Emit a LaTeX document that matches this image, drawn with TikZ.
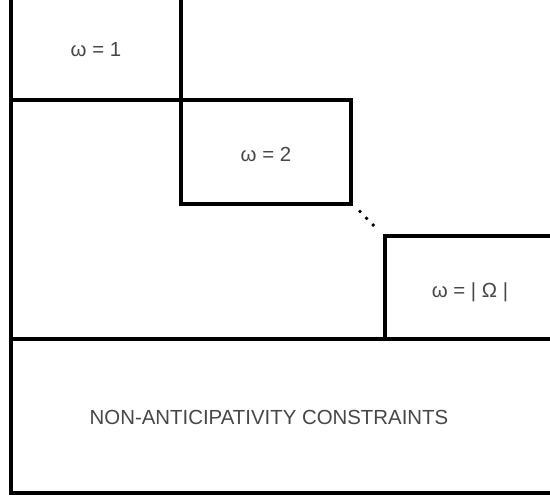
\documentclass[tikz,border=0pt]{standalone}
\usepackage{fontspec}
\setmainfont{Liberation Sans}

\begin{document}
\begin{tikzpicture}[x=1pt,y=-1pt,
    blockline/.style={line width=3.2pt,line join=miter},
    blocktext/.style={text=black!72,font=\fontsize{20.4}{24}\selectfont,inner sep=0pt}]
  \useasboundingbox (0,0) rectangle (550,497);
  \clip (0,0) rectangle (550,497);
  \draw[blockline] (11,-10) rectangle (560,493);
  \draw[blockline] (11,-10) rectangle (181,100);
  \draw[blockline] (181,100) rectangle (351,204);
  \draw[blockline] (385,236) rectangle (560,339);
  \draw[blockline] (11,339) -- (560,339);
  \foreach \i in {0,1,2}
    \fill (360+6.6*\i,211.5+6.8*\i) circle (1.9);
  \node[blocktext] (w1) at (96,50) {ω = 1};
  \node[blocktext] (w2) at (266,154) {ω = 2};
  \node[blocktext] (wn) at (470,292) {ω = | Ω |};
  \node[blocktext] (nac) at (269,417) {NON-ANTICIPATIVITY CONSTRAINTS};
\end{tikzpicture}
\end{document}
